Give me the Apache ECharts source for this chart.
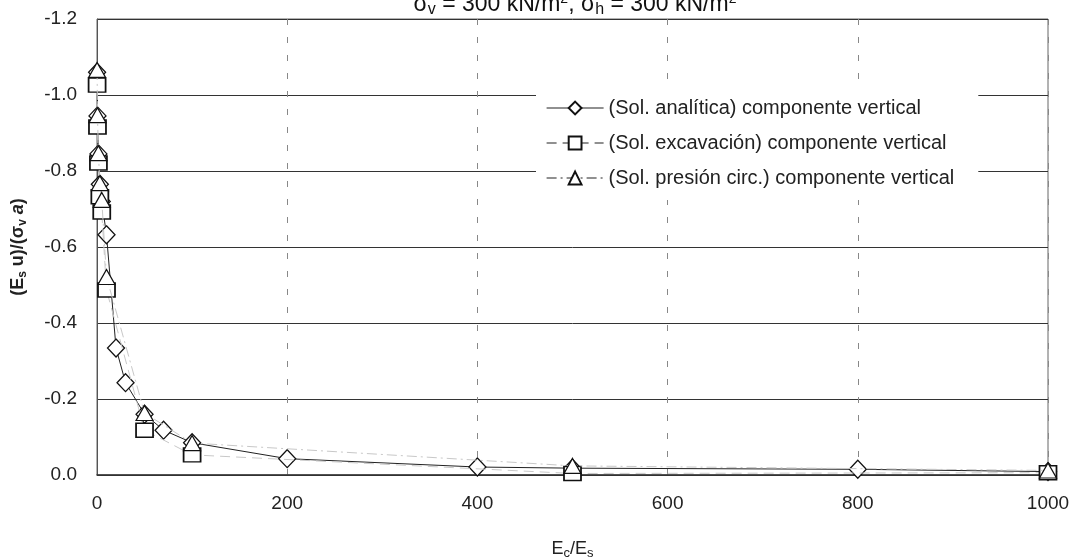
<!DOCTYPE html>
<html>
<head>
<meta charset="utf-8">
<script src="https://cdn.jsdelivr.net/npm/echarts@6/dist/echarts.min.js"></script>
<style>html,body{margin:0;padding:0;background:#fff;}#c{width:1075px;height:557px;}</style>
</head>
<body>
<div id="c"></div>
<script>
// Data
const analiticaX = [0.1, 0.5, 1.5, 3, 5, 10, 20, 30, 50, 70, 100, 200, 400, 500, 800, 1000];
const analiticaY = [-1.06, -0.945, -0.845, -0.765, -0.72, -0.632, -0.334, -0.243, -0.16, -0.118, -0.085, -0.043, -0.021, -0.018, -0.015, -0.009];
const excavacionX = [0.1, 0.5, 1.5, 3, 5, 10, 50, 100, 500, 1000];
const excavacionY = [-1.026, -0.916, -0.821, -0.732, -0.692, -0.487, -0.118, -0.053, -0.004, -0.006];
const presionX = [0.1, 0.5, 1.5, 3, 5, 10, 50, 100, 500, 1000];
const presionY = [-1.066, -0.947, -0.847, -0.768, -0.724, -0.521, -0.163, -0.084, -0.024, -0.012];
const xTicks = [0, 200, 400, 600, 800, 1000];
const yTicks = [-1.2, -1.0, -0.8, -0.6, -0.4, -0.2, 0.0];
const seriesNames = [
  '(Sol. analítica) componente vertical',
  '(Sol. excavación) componente vertical',
  '(Sol. presión circ.) componente vertical'
];

const pairs = (xs, ys) => xs.map((x, i) => [x, ys[i]]);
const FONT = 'Liberation Sans, Arial, sans-serif';
const DASH = [10, 6];
const DASHDOT = [10, 4, 2, 4];

const chart = echarts.init(document.getElementById('c'), null, {renderer: 'canvas'});
chart.setOption({
  backgroundColor: '#fff',
  animation: false,
  title: {
    text: 'σ{sub|v} = 300 kN/m{sup|2}, σ{sub|h} = 300 kN/m{sup|2}',
    left: 570, textAlign: 'center', top: -13,
    textStyle: {
      fontFamily: FONT, fontSize: 23, color: '#111', fontWeight: 'normal',
      rich: {
        sub: {fontSize: 16, verticalAlign: 'bottom', padding: [10, 0, 0, 0], fontFamily: FONT, color: '#111'},
        sup: {fontSize: 14, verticalAlign: 'top', fontFamily: FONT, color: '#111'}
      }
    }
  },
  grid: {left: 97, right: 27, top: 19, bottom: 82, show: true, borderColor: '#666', borderWidth: 1,
    containLabel: false, outerBoundsMode: 'none'},
  legend: {
    orient: 'vertical', left: 536, top: 88,
    itemWidth: 57, itemHeight: 16, itemGap: 15,
    backgroundColor: '#fff', padding: [10, 24, 12, 10],
    textStyle: {fontFamily: FONT, fontSize: 20, color: '#222'},
    lineStyle: {color: '#222', opacity: 1, width: 1.2},
    data: seriesNames
  },
  xAxis: {
    type: 'value', min: 0, max: 1000, interval: 200,
    name: 'E{sub|c}/E{sub|s}', nameLocation: 'middle', nameGap: 63,
    nameTextStyle: {fontFamily: FONT, fontSize: 18, color: '#222',
      rich: {sub: {fontSize: 13, verticalAlign: 'bottom', padding: [9, 0, 0, 0], fontFamily: FONT, color: '#222'}}},
    axisLine: {show: true, onZero: false, lineStyle: {color: '#333', width: 1.5}},
    axisTick: {show: false},
    axisLabel: {fontFamily: FONT, fontSize: 19, color: '#222', margin: 19,
      formatter: v => xTicks.includes(v) ? String(v) : ''},
    splitLine: {show: true, lineStyle: {color: '#888', width: 1, type: [6, 12]}}
  },
  yAxis: {
    type: 'value', min: -1.2, max: 0, interval: 0.2, inverse: true,
    name: '(E{sub|s} u)/(σ{sub|v} {it|a})', nameLocation: 'middle', nameGap: 68, nameRotate: 90,
    nameTextStyle: {fontFamily: FONT, fontSize: 18, fontWeight: 'bold', color: '#222',
      rich: {
        sub: {fontSize: 12, fontWeight: 'bold', verticalAlign: 'bottom', padding: [9, 0, 0, 0], fontFamily: FONT, color: '#222'},
        it: {fontSize: 18, fontWeight: 'bold', fontStyle: 'italic', fontFamily: FONT, color: '#222'}
      }},
    axisLine: {show: true, lineStyle: {color: '#555', width: 1}},
    axisTick: {show: false},
    axisLabel: {fontFamily: FONT, fontSize: 19, color: '#222', margin: 20,
      formatter: v => {
        const t = yTicks.find(k => Math.abs(k - v) < 1e-6);
        return t === undefined ? '' : t.toFixed(1);
      }},
    splitLine: {show: true, lineStyle: {color: '#333', width: 1}}
  },
  series: [
    {
      name: seriesNames[0], type: 'line', data: pairs(analiticaX, analiticaY),
      symbol: 'diamond', symbolSize: [17, 18], z: 2,
      lineStyle: {color: '#222', width: 1},
      itemStyle: {color: '#fff', borderColor: '#111', borderWidth: 1.3}
    },
    {
      name: seriesNames[1], type: 'line', data: pairs(excavacionX, excavacionY),
      symbol: 'rect', symbolSize: [17, 14], z: 3,
      lineStyle: {color: '#c8c8c8', width: 1, type: DASH},
      itemStyle: {color: '#fff', borderColor: '#111', borderWidth: 1.6}
    },
    {
      name: seriesNames[2], type: 'line', data: pairs(presionX, presionY),
      symbol: 'triangle', symbolSize: [17, 15], z: 4,
      lineStyle: {color: '#c8c8c8', width: 1, type: DASHDOT},
      itemStyle: {color: '#fff', borderColor: '#111', borderWidth: 1.2}
    }
  ]
});
</script>
</body>
</html>
